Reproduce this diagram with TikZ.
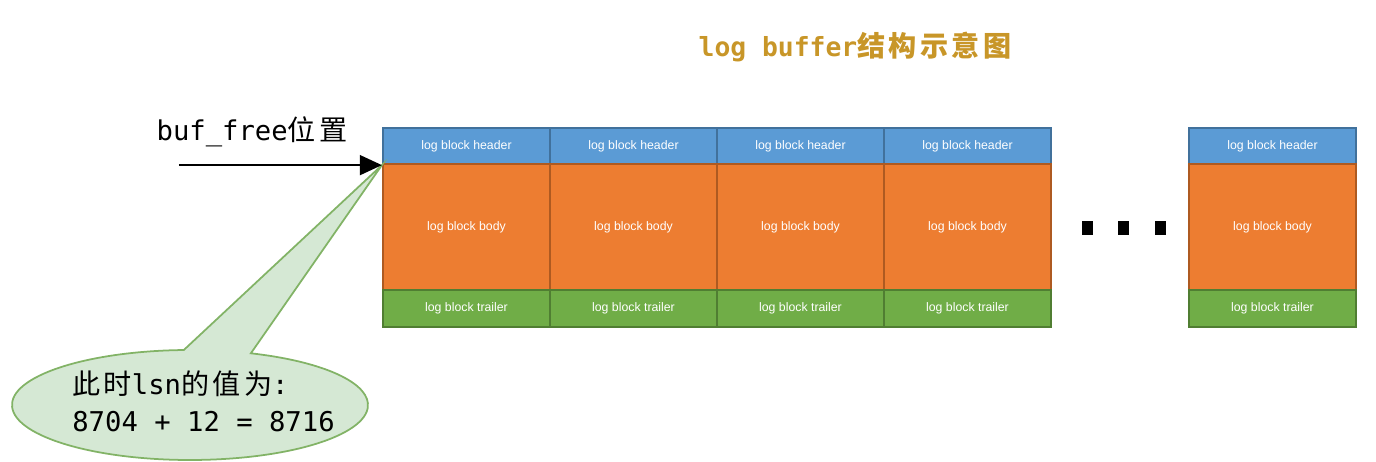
\documentclass[tikz,border=0pt]{standalone}
\usepackage{fontspec}
\setsansfont{Liberation Sans}
\setmonofont{DejaVu Sans Mono}
\newfontfamily\cjk{Noto Sans CJK SC}[LetterSpace=12]
\usetikzlibrary{arrows.meta,calc}
\definecolor{hdrfill}{HTML}{5B9BD5}
\definecolor{hdrline}{HTML}{41719C}
\definecolor{bdyfill}{HTML}{ED7D31}
\definecolor{bdyline}{HTML}{AE5A21}
\definecolor{trlfill}{HTML}{70AD47}
\definecolor{trlline}{HTML}{507E32}
\definecolor{notefill}{HTML}{D5E8D4}
\definecolor{noteline}{HTML}{82B366}
\definecolor{titlegold}{RGB}{200,150,40}
\newcommand{\zh}[1]{{\cjk\fontsize{16}{21}\selectfont #1}}
\begin{document}
\begin{tikzpicture}[x=0.02cm,y=0.02cm,
  cell/.style={line width=1.3pt,minimum width=3.34cm,inner sep=0pt,
    text=white,font=\sffamily\fontsize{7}{8}\selectfont},
  hdr/.style={cell,draw=hdrline,fill=hdrfill,minimum height=0.72cm},
  bdy/.style={cell,draw=bdyline,fill=bdyfill,minimum height=2.52cm},
  trl/.style={cell,draw=trlline,fill=trlfill,minimum height=0.74cm},
  mono/.style={font=\ttfamily\fontsize{15.5}{21}\selectfont,inner sep=0pt},
  dot/.style={fill=black,minimum width=0.22cm,minimum height=0.28cm,inner sep=0pt}]
\useasboundingbox (0,0) rectangle (1376,462);

\node[mono,text=titlegold,font=\ttfamily\bfseries\fontsize{15}{21}\selectfont] (title) at (855,415) {log buffer{\bfseries\zh{结构示意图}}};
\node[mono] (freelbl) at (252,330) {buf\_free\zh{位置}};

\foreach \cx [count=\i] in {466.5,633.5,800.5,967.5,1272.5} {
  \node[hdr] (h\i) at (\cx,316) {log block header};
  \node[bdy] (b\i) at (\cx,235) {log block body};
  \node[trl] (t\i) at (\cx,153.5) {log block trailer};
}

\foreach \dx [count=\j] in {1087,1123,1160}
  \node[dot] (d\j) at (\dx,234) {};

\coordinate (ctr) at (190,57);
\draw[fill=notefill,draw=noteline,line width=1pt]
  ($(ctr)+(70:178 and 55)$) -- (h1.south west) -- ($(ctr)+(92:178 and 55)$)
  arc[start angle=92,end angle=430,x radius=178,y radius=55] -- cycle;
\node[mono,anchor=west,align=left] (lsntext) at (72,61)
  {\zh{此时}lsn\zh{的值为}:\\8704 + 12 = 8716};

\coordinate (freestart) at ([xshift=-4.06cm]h1.south west);
\draw[line width=0.9pt,-{Triangle[length=0.44cm,width=0.4cm]}] (freestart) -- (h1.south west);
\end{tikzpicture}
\end{document}
